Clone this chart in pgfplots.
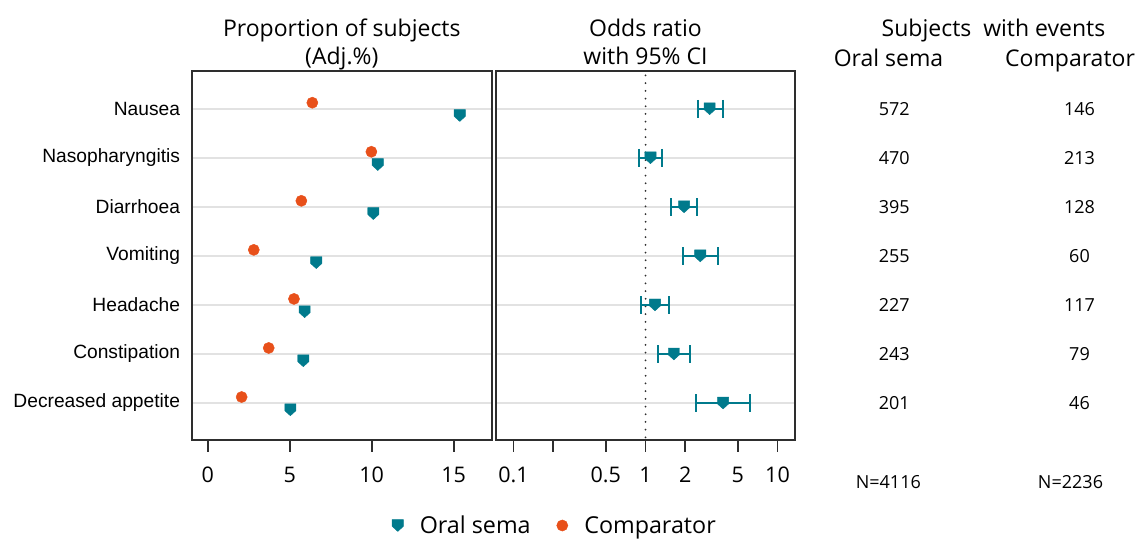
\documentclass[border=0pt]{standalone}
\usepackage{fontspec}
\setmainfont{Open Sans}
\newfontfamily\labelfont{Liberation Sans}
\usepackage{pgfplots}
\pgfplotsset{compat=1.18}

\definecolor{sema}{HTML}{007A8C}
\definecolor{comp}{HTML}{E8501A}
\definecolor{gridc}{HTML}{E2E2E2}
\definecolor{framec}{HTML}{2E2E2E}

% downward shield marker for oral sema
\pgfdeclareplotmark{shield}{%
  \pgfpathmoveto{\pgfqpoint{-\pgfplotmarksize}{1.06\pgfplotmarksize}}%
  \pgfpathlineto{\pgfqpoint{\pgfplotmarksize}{1.06\pgfplotmarksize}}%
  \pgfpathlineto{\pgfqpoint{\pgfplotmarksize}{-0.15\pgfplotmarksize}}%
  \pgfpathlineto{\pgfqpoint{0pt}{-1.06\pgfplotmarksize}}%
  \pgfpathlineto{\pgfqpoint{-\pgfplotmarksize}{-0.15\pgfplotmarksize}}%
  \pgfpathclose
  \pgfusepathqfillstroke}

\pgfplotsset{
  panel/.style={
    scale only axis, height=369.3pt, anchor=south west,
    ymin=0.24, ymax=7.769, ytick={1,...,7},
    ymajorgrids, grid style={gridc, line width=2pt},
    axis line style={framec, line width=1.8pt},
    tick align=outside, xtick pos=bottom, ytick pos=left,
    x tick style={framec, line width=1.8pt},
    major tick length=11.5pt,
    y tick style={draw=none},
    xminorticks=false,
    /pgf/number format/assume math mode=true,
    xticklabel style={font=\fontsize{21.5}{24}\selectfont, yshift=-12pt},
    yticklabel style={font=\labelfont\fontsize{19.2}{22}\selectfont, inner sep=0pt},
    clip=false,
  },
  semamark/.style={only marks, mark=shield, mark size=5.6pt,
    draw=sema, fill=sema, line width=0.4pt},
  compmark/.style={only marks, mark=*, mark size=5.6pt,
    draw=comp, fill=comp, line width=0.4pt},
  ci/.style={sema, line width=2pt, mark=|, mark size=8.8pt,
    mark options={sema, line width=2pt}},
}

\pgfplotstableread{
row sema comp
7 15.37 6.38
6 10.37 9.98
5 10.10 5.71
4 6.62 2.81
3 5.91 5.26
2 5.83 3.72
1 5.04 2.07
}\propdata

\pgfplotstableread{
row or
7 3.06
6 1.09
5 1.96
4 2.60
3 1.18
2 1.64
1 3.87
}\ordata

\begin{document}
\begin{tikzpicture}
\useasboundingbox (0,0) rectangle (1140pt,538pt);

\begin{axis}[panel, at={(191.7pt,97.7pt)}, width=300pt,
  xmin=-0.976, xmax=17.317, xtick={0,5,10,15},
  yticklabels={Decreased appetite,Constipation,Headache,Vomiting,Diarrhoea,Nasopharyngitis,Nausea},
  legend columns=2,
  legend style={at={(rel axis cs:1.211,-0.2307)}, anchor=center, draw=none, fill=none,
    font=\fontsize{23.3}{26}\selectfont,
    /tikz/every even column/.append style={column sep=24pt}},
  legend image code/.code={\path[draw=none, fill=none] (0pt,0pt) -- (24pt,0pt); \draw[#1] plot coordinates {(4pt,0pt)};},
]
\addplot[compmark, mark options={yshift=6pt}, forget plot] table[x=comp, y=row] {\propdata};
\addplot[semamark, mark options={yshift=-6.8pt}, forget plot] table[x=sema, y=row] {\propdata};
\addlegendimage{semamark}
\addlegendentry{Oral sema}
\addlegendimage{compmark}
\addlegendentry{Comparator}
\end{axis}

\begin{axis}[panel, xmode=log, at={(495.7pt,97.7pt)}, width=299.3pt,
  xmin=0.0733, xmax=13.57, xtick={0.1,0.2,0.5,1,2,5,10},
  xticklabels={0.1,,0.5,1,2,5,10}, yticklabels={},
]
\addplot[framec, line width=2pt, line cap=round, dash pattern=on 0pt off 7.7pt] coordinates {(1,0.3) (1,7.769)};
\addplot[ci] coordinates {(2.48,7) (3.87,7)};
\addplot[ci] coordinates {(0.89,6) (1.33,6)};
\addplot[ci] coordinates {(1.57,5) (2.47,5)};
\addplot[ci] coordinates {(1.94,4) (3.56,4)};
\addplot[ci] coordinates {(0.92,3) (1.51,3)};
\addplot[ci] coordinates {(1.24,2) (2.18,2)};
\addplot[ci] coordinates {(2.41,1) (6.16,1)};
\addplot[semamark] table[x=or, y=row] {\ordata};
\end{axis}

% column titles
\begin{scope}[every node/.style={font=\fontsize{23}{26}\selectfont, inner sep=0pt}]
\node[anchor=base] at (341.8pt,501pt) {Proportion of subjects};
\node[anchor=base] at (341.8pt,473pt) {(Adj.\%)};
\node[anchor=base] at (645.5pt,501pt) {Odds ratio};
\node[anchor=base] at (645.5pt,473pt) {with 95\% CI};
\node[anchor=base] at (993.5pt,501pt) {Subjects\ \ with events};
\node[anchor=base] at (888.5pt,471pt) {Oral sema};
\node[anchor=base] at (1070pt,471pt) {Comparator};
\end{scope}

% subjects with events
\begin{scope}[every node/.style={font=\fontsize{18}{21}\selectfont, inner sep=0pt}]
\foreach \y/\a/\b in {429.3/572/146, 380.25/470/213, 331.2/395/128, 282.15/255/60,
                      233.1/227/117, 184.05/243/79, 135/201/46} {
  \node at (894.3pt,\y pt) {\a};
  \node at (1079.5pt,\y pt) {\b};
}
\node at (888.3pt,56pt) {N=4116};
\node at (1070.5pt,56pt) {N=2236};
\end{scope}
\end{tikzpicture}
\end{document}
